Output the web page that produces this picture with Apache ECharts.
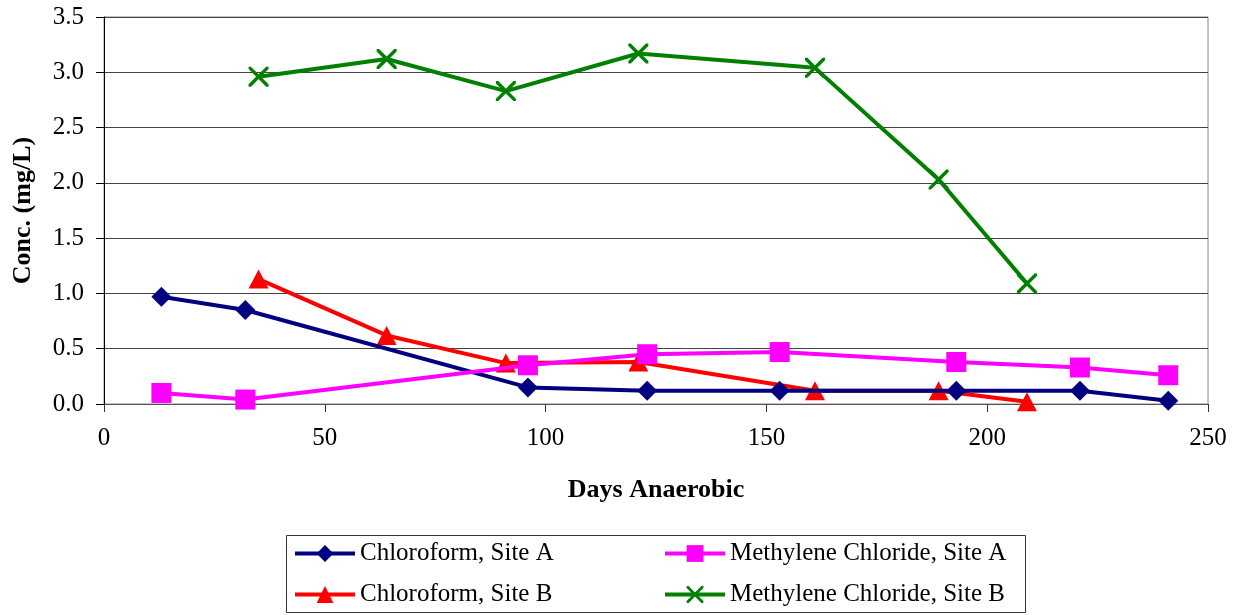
<!DOCTYPE html>
<html>
<head>
<meta charset="utf-8">
<style>
  html, body { margin: 0; padding: 0; background: #fff; }
  #chart { width: 1238px; height: 615px; }
</style>
<script src="https://cdn.jsdelivr.net/npm/echarts@6/dist/echarts.min.js"></script>
</head>
<body>
<div id="chart"></div>
<script>
// Sampling days and concentrations (mg/L)
const daysSiteA = [13, 32, 96, 123, 153, 193, 221, 241];
const daysSiteB = [35, 64, 91, 121, 161, 189, 209];

const chloroformA = [0.97, 0.85, 0.15, 0.12, 0.12, 0.12, 0.12, 0.03];
const methyleneA  = [0.10, 0.04, 0.35, 0.45, 0.47, 0.38, 0.33, 0.26];
const chloroformB = [1.13, 0.62, 0.37, 0.38, 0.12, 0.12, 0.02];
const methyleneB  = [2.96, 3.12, 2.83, 3.17, 3.04, 2.03, 1.09];

const seriesNames = [
  'Chloroform, Site A',
  'Methylene Chloride, Site A',
  'Chloroform, Site B',
  'Methylene Chloride, Site B'
];

const xTicks = { min: 0, max: 250, interval: 50 };
const yTicks = { min: 0, max: 3.5, interval: 0.5 };

const FONT = '"Liberation Serif", "Times New Roman", serif';

function pairs(xs, ys) {
  return xs.map((x, i) => [x, ys[i]]);
}

// thin "X" marker drawn as a filled outline
const crossPath = 'path://M0,0L1.2,0L10,8.8L10,10L8.8,10L0,1.2Z M8.8,0L10,0L10,1.2L1.2,10L0,10L0,8.8Z';

const legendBase = {
  orient: 'vertical',
  top: 541,
  padding: 0,
  itemWidth: 60, itemHeight: 21, itemGap: 16,
  selectedMode: false,
  lineStyle: { width: 4 },
  textStyle: { fontFamily: FONT, fontSize: 25, color: '#000', lineHeight: 25 }
};

const chart = echarts.init(document.getElementById('chart'), null, { renderer: 'canvas' });

chart.setOption({
  animation: false,
  backgroundColor: '#ffffff',
  grid: {
    left: 104, right: 30, top: 17, bottom: 211,
    show: true, borderColor: '#888888', borderWidth: 1,
    containLabel: false
  },
  xAxis: {
    type: 'value',
    min: xTicks.min, max: xTicks.max, interval: xTicks.interval,
    name: 'Days Anaerobic',
    nameLocation: 'middle',
    nameGap: 73,
    nameTextStyle: { fontFamily: FONT, fontSize: 26, fontWeight: 'bold', color: '#000' },
    axisLine: { onZero: false, lineStyle: { color: '#555', width: 1 } },
    axisTick: { show: true, inside: false, length: 8, lineStyle: { color: '#333' } },
    axisLabel: { fontFamily: FONT, fontSize: 25, color: '#000', margin: 22 },
    splitLine: { show: false }
  },
  yAxis: {
    type: 'value',
    min: yTicks.min, max: yTicks.max, interval: yTicks.interval,
    name: 'Conc. (mg/L)',
    nameLocation: 'middle',
    nameGap: 68,
    nameRotate: 90,
    nameTextStyle: { fontFamily: FONT, fontSize: 26, fontWeight: 'bold', color: '#000' },
    axisLine: { show: true, lineStyle: { color: '#000', width: 1 } },
    axisTick: { show: true, inside: false, length: 8, lineStyle: { color: '#000' } },
    axisLabel: {
      fontFamily: FONT, fontSize: 25, color: '#000', margin: 20,
      formatter: v => v.toFixed(1)
    },
    splitLine: { show: true, lineStyle: { color: '#444', width: 1 } }
  },
  legend: [
    Object.assign({}, legendBase, { data: [seriesNames[0], seriesNames[2]], left: 293 }),
    Object.assign({}, legendBase, { data: [seriesNames[1], seriesNames[3]], left: 663 })
  ],
  graphic: [
    {
      type: 'rect',
      shape: { x: 286.5, y: 535.5, width: 739, height: 77 },
      style: { fill: 'none', stroke: '#333', lineWidth: 1 },
      silent: true
    }
  ],
  series: [
    {
      name: seriesNames[0],
      type: 'line',
      data: pairs(daysSiteA, chloroformA),
      z: 3,
      color: '#000080',
      lineStyle: { width: 4, color: '#000080' },
      symbol: 'diamond', symbolSize: [20, 20],
      itemStyle: { color: '#000080' },
      showAllSymbol: true
    },
    {
      name: seriesNames[1],
      type: 'line',
      data: pairs(daysSiteA, methyleneA),
      z: 4,
      color: '#ff00ff',
      lineStyle: { width: 4, color: '#ff00ff' },
      symbol: 'rect', symbolSize: [20, 20],
      itemStyle: { color: '#ff00ff' },
      showAllSymbol: true
    },
    {
      name: seriesNames[2],
      type: 'line',
      data: pairs(daysSiteB, chloroformB),
      z: 2,
      color: '#ff0000',
      lineStyle: { width: 4, color: '#ff0000' },
      symbol: 'triangle', symbolSize: [20, 19],
      itemStyle: { color: '#ff0000' },
      showAllSymbol: true
    },
    {
      name: seriesNames[3],
      type: 'line',
      data: pairs(daysSiteB, methyleneB),
      z: 5,
      color: '#008000',
      lineStyle: { width: 4, color: '#008000' },
      symbol: crossPath, symbolSize: [20, 20],
      itemStyle: { color: '#008000' },
      showAllSymbol: true
    }
  ]
});
</script>
</body>
</html>
